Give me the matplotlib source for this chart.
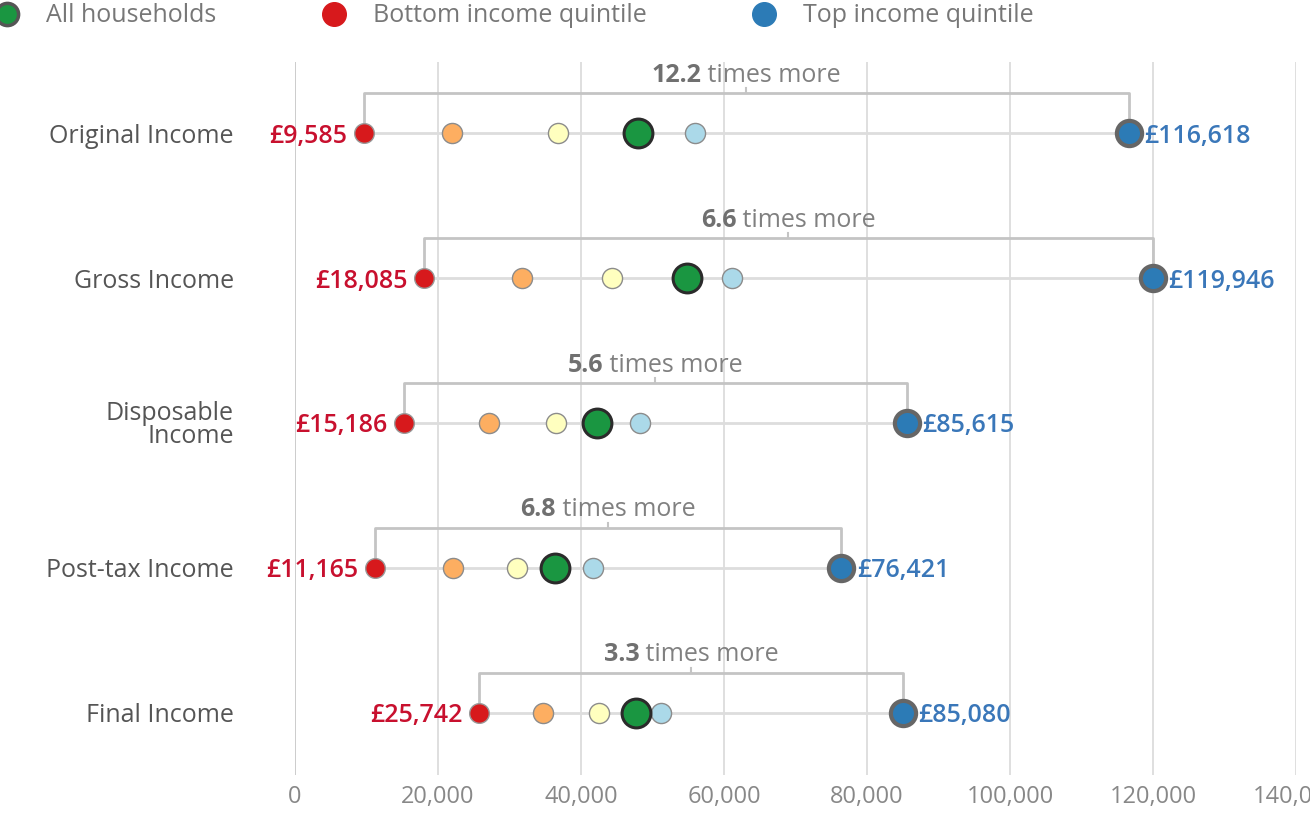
import matplotlib
matplotlib.use("Agg")
import matplotlib.pyplot as plt
from matplotlib.lines import Line2D

plt.rcParams.update({
    "font.family": ["Open Sans", "DejaVu Sans"],
    "font.size": 18,
})

# =====================================================
# Data
# =====================================================
rows = ["Original Income", "Gross Income", "Disposable\nIncome",
        "Post-tax Income", "Final Income"]
bottom = [9585, 18085, 15186, 11165, 25742]
second = [22000, 31700, 27100, 22100, 34700]
third = [36800, 44300, 36500, 31000, 42500]
allhh = [48000, 54800, 42200, 36400, 47700]
fourth = [55900, 61100, 48300, 41700, 51200]
top = [116618, 119946, 85615, 76421, 85080]
ratios = ["12.2", "6.6", "5.6", "6.8", "3.3"]
xticks = [0, 20000, 40000, 60000, 80000, 100000, 120000, 140000]

RED = "#d7191c"
ORANGE = "#fdae61"
YELLOW = "#ffffbf"
GREEN = "#1a9641"
LBLUE = "#abd9e9"
BLUE = "#2c7bb6"
GRID = "#dcdcdc"
BRACKET = "#c4c4c4"

fig = plt.figure(figsize=(13.1, 8.31), dpi=100)
ax = fig.add_axes([295 / 1310, 1 - 775 / 831, (1296 - 295) / 1310, (775 - 62) / 831])

ax.set_xlim(0, 140000)
ax.set_ylim(4.428, -0.49)
ypos = list(range(len(rows)))

# grid
for xt in xticks:
    ax.axvline(xt, color="#c8c8c8" if xt == 0 else GRID, lw=1.3, zorder=0)

for i, y in enumerate(ypos):
    lo, hi = bottom[i], top[i]
    # row line
    ax.plot([lo, hi], [y, y], color="#dddddd", lw=2, zorder=1, solid_capstyle="butt")
    # bracket
    yb = y - 0.276
    ax.plot([lo, lo, hi, hi], [y, yb, yb, y], color=BRACKET, lw=2, zorder=1)
    cx = (lo + hi) / 2
    ax.plot([cx, cx], [yb, yb - 0.035], color=BRACKET, lw=1.5, zorder=1)

    ax.scatter(second[i], y, s=210, color=ORANGE, edgecolor="#8c8c8c", lw=1, zorder=3)
    ax.scatter(third[i], y, s=210, color=YELLOW, edgecolor="#8c8c8c", lw=1, zorder=3)
    ax.scatter(fourth[i], y, s=210, color=LBLUE, edgecolor="#8c8c8c", lw=1, zorder=3)
    ax.scatter(allhh[i], y, s=430, color=GREEN, edgecolor="#2b2b2b", lw=2.2, zorder=4)
    ax.scatter(lo, y, s=200, color=RED, edgecolor="#999999", lw=1, zorder=4)
    ax.scatter(hi, y, s=330, color=BLUE, edgecolor="#666666", lw=3, zorder=4)

    ax.annotate(f"£{lo:,}", xy=(lo, y), xytext=(-12, 0), textcoords="offset points",
                ha="right", va="center_baseline", color="#c8102e", fontsize=18,
                fontweight="semibold")
    ax.annotate(f"£{hi:,}", xy=(hi, y), xytext=(11, 0), textcoords="offset points",
                ha="left", va="center_baseline", color="#3a77b9", fontsize=18,
                fontweight="semibold")

# bracket captions: bold number + regular text, centred
captions = []
for i, y in enumerate(ypos):
    cx = (bottom[i] + top[i]) / 2
    t1 = ax.text(cx, y - 0.40, ratios[i], ha="left", va="center",
                 fontweight="bold", color="#707070", fontsize=18)
    t2 = ax.annotate(" times more", xy=(1, 0.5), xycoords=t1, ha="left",
                     va="center", color="#808080", fontsize=18)
    captions.append((t1, t2, cx, y - 0.40))

fig.canvas.draw()
renderer = fig.canvas.get_renderer()
for t1, t2, cx, yy in captions:
    w = t1.get_window_extent(renderer).width + t2.get_window_extent(renderer).width
    px, py = ax.transData.transform((cx, yy))
    nx, ny = ax.transData.inverted().transform((px - w / 2, py))
    t1.set_position((nx, ny))

ax.set_yticks(ypos)
ax.set_yticklabels(rows, color="#555555", fontsize=18, linespacing=0.9)
ax.tick_params(axis="y", length=0, pad=44)
ax.set_xticks(xticks)
ax.set_xticklabels([f"{v:,}" for v in xticks], color="#888888", fontsize=17)
ax.tick_params(axis="x", length=0, pad=7)
for sp in ax.spines.values():
    sp.set_visible(False)

# legend
handles = [
    Line2D([], [], ls="none", marker="o", ms=16, mfc=GREEN, mec="#555555", mew=2.5),
    Line2D([], [], ls="none", marker="o", ms=17, mfc=RED, mec=RED),
    Line2D([], [], ls="none", marker="o", ms=17, mfc=BLUE, mec=BLUE),
]
fig.legend(handles, ["All households", "Bottom income quintile", "Top income quintile"],
           loc="center left", bbox_to_anchor=(-0.004, 1 - 16 / 831), ncol=3,
           frameon=False, fontsize=18, labelcolor="#777777", handlelength=1,
           handletextpad=1.05, columnspacing=4.2, borderaxespad=0, borderpad=0)

fig.savefig("out.png", dpi=100)
